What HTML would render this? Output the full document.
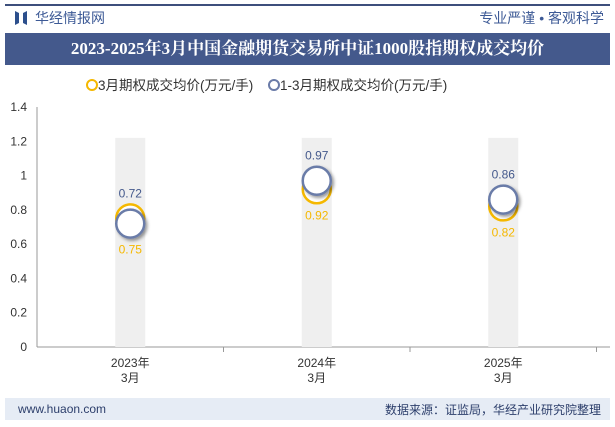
<!DOCTYPE html>
<html><head><meta charset="utf-8"><style>
body{margin:0;width:615px;height:427px;background:#fff;font-family:"Liberation Sans","Noto Sans CJK SC",sans-serif;overflow:hidden;position:relative}
.abs{position:absolute}
</style></head><body>
<div class="abs" style="left:5px;top:4px;width:605px;height:2px;background:#3d4f7c"></div>
<div class="abs" style="left:14px;top:9px;width:22px;height:18px;font-size:14px;color:#3d5a96">
<svg width="14" height="16"><path d="M1 2 L5 4 L5 14 L1 16Z M13 2 L9 4 L9 14 L13 16Z" fill="#2c4f8c"/></svg></div>
<div class="abs" style="left:35px;top:8px;font-size:14px;color:#3d5a96">华经情报网</div>
<div class="abs" style="right:11px;top:8px;font-size:14px;color:#3d5a96">专业严谨 • 客观科学</div>
<div class="abs" style="left:5px;top:33px;width:605px;height:32px;background:#44598c;color:#fff;font-family:'Liberation Serif','Noto Serif CJK SC',serif;font-weight:bold;font-size:17px;text-align:center;line-height:32px">2023-2025年3月中国金融期货交易所中证1000股指期权成交均价</div>
<div class="abs" style="left:86px;top:74px;font-size:13.5px;color:#333"><span style="display:inline-block;width:8px;height:8px;border:2px solid #f5b800;border-radius:50%;vertical-align:-1px"></span>3月期权成交均价(万元/手)</div>
<div class="abs" style="left:268px;top:74px;font-size:13.5px;color:#333"><span style="display:inline-block;width:8px;height:8px;border:2px solid #6a7ba8;border-radius:50%;vertical-align:-1px"></span>1-3月期权成交均价(万元/手)</div>
<svg class="abs" style="left:0;top:0" width="615" height="427" id="chart"></svg>
<div class="abs" style="left:5px;top:398px;width:605px;height:22px;background:#e6ecf5"></div>
<div class="abs" style="left:18px;top:402px;font-size:12px;color:#2c3e6b">www.huaon.com</div>
<div class="abs" style="right:14px;top:401px;font-size:12px;color:#2c3e6b">数据来源：证监局，华经产业研究院整理</div>
<script>
const categories=["2023年|3月","2024年|3月","2025年|3月"];
const marchValues=[0.75,0.92,0.82];
const ytdValues=[0.72,0.97,0.86];
const yTicks=[0,0.2,0.4,0.6,0.8,1,1.2,1.4];
const NS="http://www.w3.org/2000/svg";
const svg=document.getElementById('chart');
const x0=37,x1=610,y0=347,y1=107;
const y=v=>y0-(v/1.4)*(y0-y1);
const step=186.5;
const x=i=>x0+step*(i+0.5);
function mk(t,a){const e=document.createElementNS(NS,t);for(const k in a)e.setAttribute(k,a[k]);svg.appendChild(e);return e;}
const defs=mk('defs',{});defs.innerHTML='<filter id="sh" x="-50%" y="-50%" width="200%" height="200%"><feDropShadow dx="2" dy="2" stdDeviation="1.5" flood-color="#000" flood-opacity="0.4"/></filter>';
yTicks.forEach(v=>{const t=mk('text',{x:27,y:y(v)+4,'text-anchor':'end','font-size':12,fill:'#333'});t.textContent=String(v);
});
const ax=mk('line',{x1:x0,x2:x0,y1:y1,y2:y0,stroke:'#999'});
const bx=mk('line',{x1:x0,x2:x1,y1:y0,y2:y0,stroke:'#999'});
categories.forEach((c,i)=>{
const band=mk('rect',{x:x(i)-15,y:y(1.22),width:30,height:y0-y(1.22),fill:'#efefef'});

const tk=mk('line',{x1:x0+step*(i+1),x2:x0+step*(i+1),y1:y0,y2:y0+5,stroke:'#999'});
const parts=c.split('|');parts.forEach((p,j)=>{const t=mk('text',{x:x(i),y:y0+20+j*15,'text-anchor':'middle','font-size':12,fill:'#333'});t.textContent=p;
});
});
categories.forEach((c,i)=>{
const a=mk('circle',{cx:x(i),cy:y(marchValues[i]),r:14,fill:'#fff',stroke:'#f5b800','stroke-width':2.5});

const b=mk('circle',{cx:x(i),cy:y(ytdValues[i]),r:14,fill:'#fff',stroke:'#6a7ba8','stroke-width':2.5,filter:'url(#sh)'});

const lo=Math.min(y(marchValues[i]),y(ytdValues[i])),hi=Math.max(y(marchValues[i]),y(ytdValues[i]));
const t1=mk('text',{x:x(i),y:lo-21,'text-anchor':'middle','font-size':12,fill:'#44598c'});t1.textContent=ytdValues[i].toFixed(2);

const t2=mk('text',{x:x(i),y:hi+30,'text-anchor':'middle','font-size':12,fill:'#f5b800'});t2.textContent=marchValues[i].toFixed(2);

});
</script>
</body></html>
